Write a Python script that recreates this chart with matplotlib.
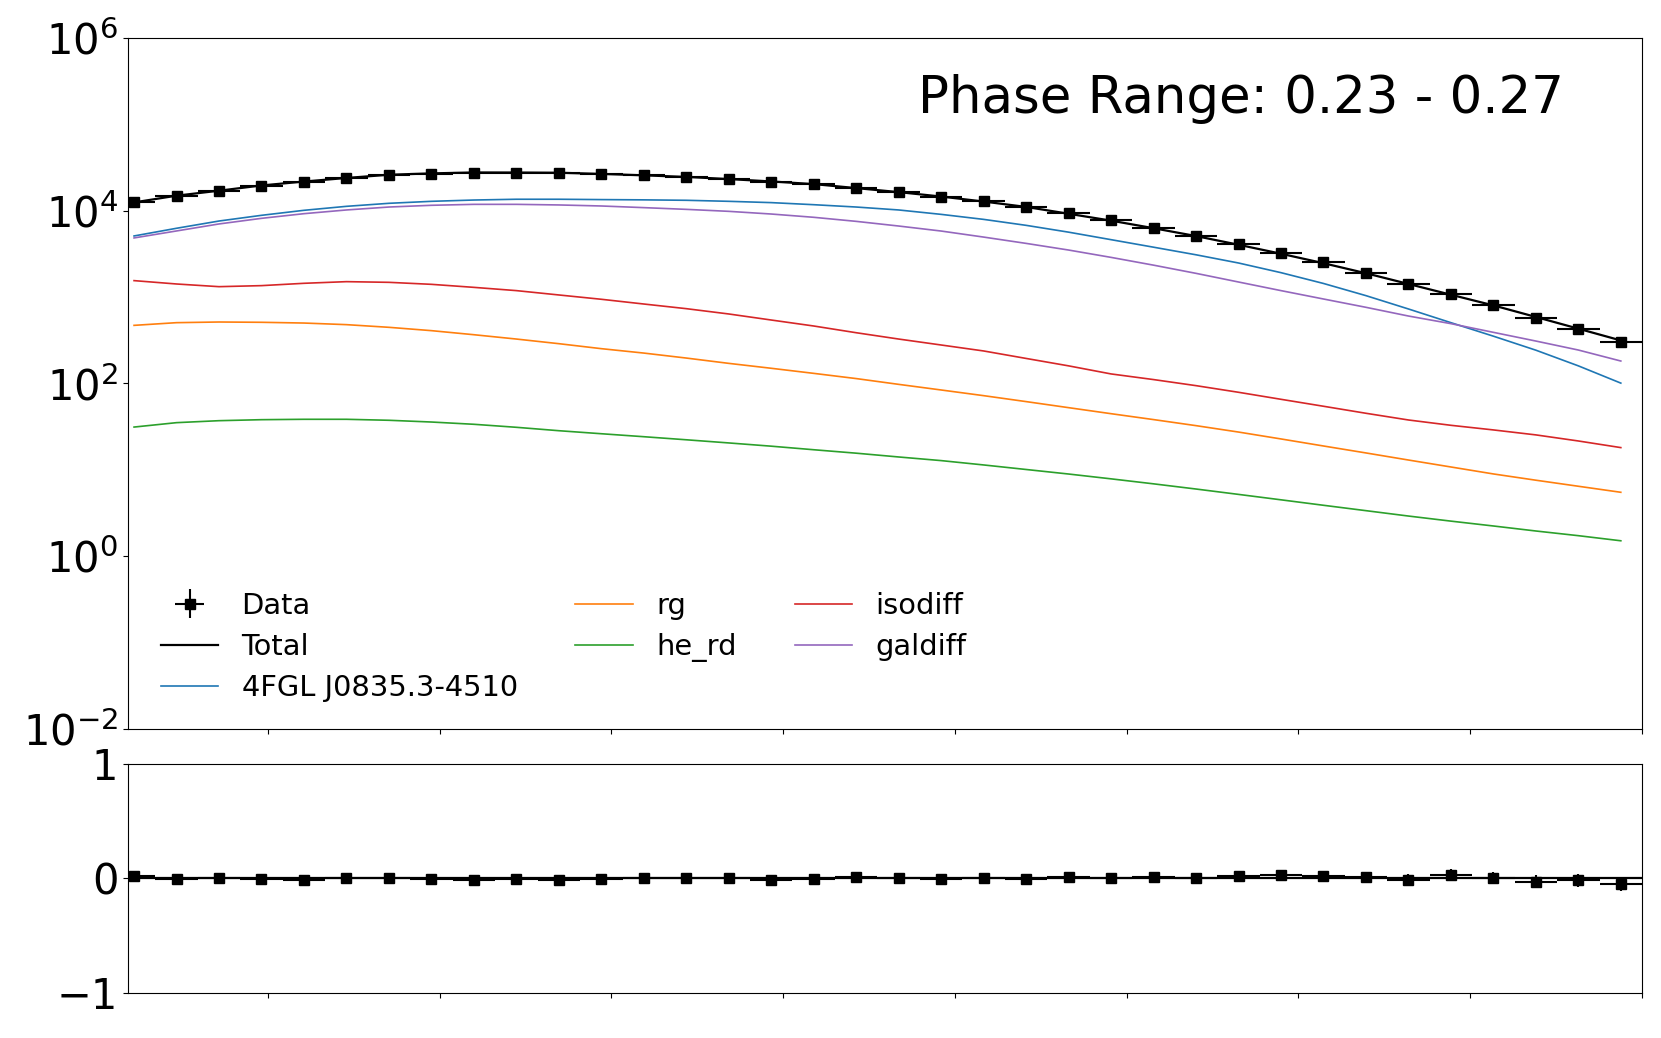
import numpy as np
import matplotlib
matplotlib.use("Agg")
import matplotlib.pyplot as plt

# ---- data ----
bin_index = np.arange(36)

data_flux = [12735, 14825, 17061, 19498, 21528, 24155, 26182, 26853, 27353, 27606,
             27164, 26607, 25704, 24831, 23335, 21528, 20230, 18493, 16482, 14555,
             12853, 11041, 9333, 7745, 6368, 5105, 4121, 3266, 2529, 1919,
             1406, 1096, 804, 573, 424, 300]

total_model = [12490, 14940, 17060, 19620, 21770, 23960, 26100, 27070, 27740, 27690,
               27540, 26690, 25700, 24630, 23270, 21830, 20350, 18290, 16430, 14600,
               12780, 11070, 9230, 7680, 6280, 5090, 4040, 3180, 2470, 1890,
               1420, 1066, 802, 589, 431, 315]

psr_4fgl = [5105, 6266, 7603, 8851, 10116, 11246, 12190, 12853, 13305, 13583,
            13583, 13459, 13366, 13213, 12853, 12417, 11749, 11041, 10209, 9078,
            7943, 6776, 5649, 4624, 3784, 3090, 2483, 1919, 1439, 1040,
            729, 506, 353, 243, 160, 101]

rg = [471, 506, 515, 511, 501, 480, 447, 409, 367, 327,
      289, 253, 225, 197, 171, 150, 131, 114, 97.7, 84.1,
      72.3, 61.7, 52.5, 44.7, 38.2, 32.5, 27.4, 22.8, 18.9, 15.7,
      13.0, 10.8, 8.97, 7.59, 6.46, 5.50]

he_rd = [31.3, 35.2, 37.1, 38.1, 38.5, 38.5, 37.5, 35.8, 33.7, 31.1,
         28.4, 26.2, 24.2, 22.3, 20.5, 18.8, 17.1, 15.6, 14.1, 12.8,
         11.4, 10.1, 8.95, 7.87, 6.89, 6.00, 5.20, 4.50, 3.89, 3.37,
         2.92, 2.55, 2.24, 1.96, 1.73, 1.51]

isodiff = [1552, 1419, 1321, 1358, 1445, 1510, 1483, 1406, 1297, 1189,
           1059, 944, 832, 735, 638, 543, 463, 387, 327, 279,
           238, 195, 160, 129, 111, 94.4, 79.1, 65.6, 54.5, 45.2,
           37.8, 32.8, 29.0, 25.4, 21.6, 18.1]

galdiff = [4842, 5834, 7031, 8166, 9247, 10209, 11041, 11561, 11858, 11858,
           11668, 11350, 10864, 10375, 9840, 9162, 8395, 7534, 6653, 5821,
           4955, 4188, 3508, 2884, 2344, 1884, 1496, 1189, 951, 762,
           604, 493, 391, 310, 244, 182]

residual = [0.020, -0.008, 0.000, -0.006, -0.011, 0.008, 0.003, -0.008, -0.014, -0.003,
            -0.014, -0.003, 0.000, 0.008, 0.003, -0.014, -0.006, 0.011, 0.003, -0.003,
            0.006, -0.003, 0.011, 0.008, 0.014, 0.003, 0.020, 0.028, 0.025, 0.014,
            -0.011, 0.028, 0.003, -0.028, -0.017, -0.048]

residual_err = [0.020, 0.018, 0.017, 0.016, 0.016, 0.016, 0.016, 0.016, 0.016, 0.016,
                0.016, 0.017, 0.017, 0.018, 0.018, 0.019, 0.020, 0.021, 0.022, 0.023,
                0.024, 0.026, 0.028, 0.030, 0.032, 0.034, 0.036, 0.039, 0.042, 0.045,
                0.048, 0.051, 0.054, 0.057, 0.060, 0.064]

component_labels = ["4FGL J0835.3-4510", "rg", "he_rd", "isodiff", "galdiff"]
components = [psr_4fgl, rg, he_rd, isodiff, galdiff]
component_colors = ["#1f77b4", "#ff7f0e", "#2ca02c", "#d62728", "#9467bd"]
title_text = "Phase Range: 0.23 - 0.27"

# ---- figure ----
fig = plt.figure(figsize=(16.61, 10.38), dpi=100)
ax1 = fig.add_axes([0.0771, 0.2977, 0.9115, 0.6657])
ax2 = fig.add_axes([0.0771, 0.0434, 0.9115, 0.2206], sharex=ax1)

x = bin_index
data_arr = np.array(data_flux, dtype=float)
flux_err = data_arr * np.array(residual_err)

comp_handles = []
for vals, lab, col in zip(components, component_labels, component_colors):
    h, = ax1.plot(x, vals, color=col, lw=1.2, label=lab)
    comp_handles.append(h)

tot_h, = ax1.plot(x, total_model, color="k", lw=1.6, label="Total")
data_h = ax1.errorbar(x, data_flux, xerr=0.5, yerr=flux_err, fmt="s", color="k",
                      ms=7, elinewidth=1.5, capsize=0, label="Data")

ax1.set_yscale("log")
ax1.set_ylim(1e-2, 1e6)
ax1.set_yticks([1e-2, 1e0, 1e2, 1e4, 1e6])
ax1.yaxis.set_minor_locator(matplotlib.ticker.NullLocator())
ax1.tick_params(axis="y", labelsize=30)
ax1.tick_params(axis="x", labelbottom=False)

ax1.text(0.9485, 0.891, title_text, transform=ax1.transAxes, ha="right",
         va="baseline", fontsize=37)

handles = [data_h, tot_h] + comp_handles
labels = ["Data", "Total"] + component_labels
ax1.legend(handles, labels, loc="lower left", bbox_to_anchor=(0.0139, 0.0217),
           borderaxespad=0, ncol=3, frameon=False,
           fontsize=20.8, labelspacing=0.46, columnspacing=2.0)

# residual panel
ax2.axhline(0, color="k", lw=1.6)
ax2.errorbar(x, residual, xerr=0.5, yerr=residual_err, fmt="s", color="k",
             ms=7, elinewidth=1.5, capsize=0)
ax2.set_ylim(-1, 1)
ax2.set_yticks([-1, 0, 1])
ax2.tick_params(axis="y", labelsize=30)
ax2.tick_params(axis="x", labelbottom=False)

tick_step = 4.044
ax1.set_xlim(-0.141, 35.5)
ax1.set_xticks([35.5 - tick_step * k for k in range(8, -1, -1)])

fig.savefig("out.png", dpi=100)
